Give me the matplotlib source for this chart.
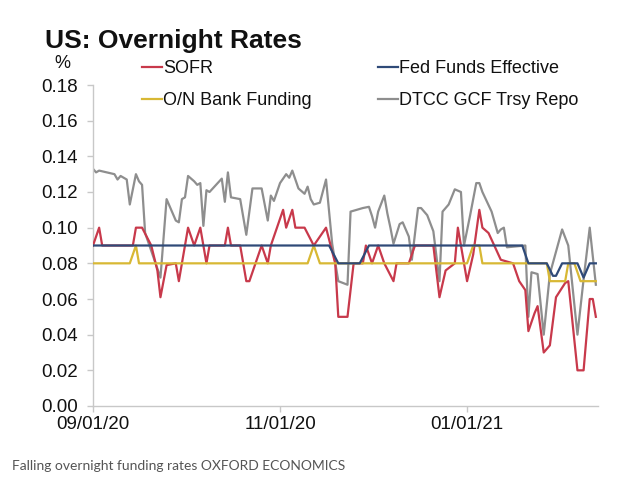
import matplotlib
matplotlib.use("Agg")
import matplotlib.pyplot as plt
import matplotlib.dates as mdates
import pandas as pd
import numpy as np

plt.rcParams['font.family'] = ['Liberation Sans', 'DejaVu Sans']

# values (turning points of each line), % per annum
sofr_dates = ['2020-09-01', '2020-09-03', '2020-09-04', '2020-09-14', '2020-09-15', '2020-09-17',
              '2020-09-20', '2020-09-22', '2020-09-23', '2020-09-25', '2020-09-28', '2020-09-29',
              '2020-09-30', '2020-10-02', '2020-10-04', '2020-10-06', '2020-10-08', '2020-10-09',
              '2020-10-14', '2020-10-15', '2020-10-16', '2020-10-19', '2020-10-21', '2020-10-22',
              '2020-10-24', '2020-10-26', '2020-10-28', '2020-10-29', '2020-11-02', '2020-11-03',
              '2020-11-05', '2020-11-06', '2020-11-09', '2020-11-12', '2020-11-16', '2020-11-19',
              '2020-11-20', '2020-11-23', '2020-11-25', '2020-11-28', '2020-11-29', '2020-12-01',
              '2020-12-03', '2020-12-05', '2020-12-08', '2020-12-09', '2020-12-13', '2020-12-15',
              '2020-12-21', '2020-12-23', '2020-12-25', '2020-12-28', '2020-12-29', '2021-01-01',
              '2021-01-03', '2021-01-05', '2021-01-06', '2021-01-08', '2021-01-12', '2021-01-16',
              '2021-01-18', '2021-01-20', '2021-01-21', '2021-01-23', '2021-01-24', '2021-01-26',
              '2021-01-28', '2021-01-30', '2021-02-02', '2021-02-03', '2021-02-06', '2021-02-08',
              '2021-02-10', '2021-02-11', '2021-02-12']
sofr = [0.09, 0.10, 0.09, 0.09, 0.10, 0.10,
        0.09, 0.076, 0.061, 0.079, 0.08, 0.07,
        0.08, 0.10, 0.09, 0.10, 0.08, 0.09,
        0.09, 0.10, 0.09, 0.09, 0.07, 0.07,
        0.08, 0.09, 0.08, 0.09, 0.11, 0.10,
        0.11, 0.10, 0.10, 0.09, 0.10, 0.08,
        0.05, 0.05, 0.08, 0.08, 0.09, 0.08,
        0.09, 0.08, 0.07, 0.08, 0.08, 0.09,
        0.09, 0.061, 0.076, 0.08, 0.10, 0.07,
        0.085, 0.11, 0.10, 0.097, 0.082, 0.08,
        0.07, 0.065, 0.042, 0.052, 0.056, 0.03,
        0.034, 0.061, 0.069, 0.07, 0.02, 0.02,
        0.06, 0.06, 0.05]

fed_dates = ['2020-09-01', '2020-11-17', '2020-11-20', '2020-11-27', '2020-11-30', '2021-01-19',
             '2021-01-21', '2021-01-27', '2021-01-29', '2021-01-30', '2021-02-01', '2021-02-06',
             '2021-02-08', '2021-02-10', '2021-02-12']
fed = [0.09, 0.09, 0.08, 0.08, 0.09, 0.09,
       0.08, 0.08, 0.073, 0.073, 0.08, 0.08,
       0.072, 0.08, 0.08]

bank_dates = ['2020-09-01', '2020-09-13', '2020-09-15', '2020-09-16', '2020-11-10', '2020-11-12',
              '2020-11-14', '2021-01-01', '2021-01-03', '2021-01-05', '2021-01-06', '2021-01-27',
              '2021-01-28', '2021-02-02', '2021-02-03', '2021-02-05', '2021-02-07', '2021-02-12']
bank = [0.08, 0.08, 0.09, 0.08, 0.08, 0.09,
        0.08, 0.08, 0.09, 0.09, 0.08, 0.08,
        0.07, 0.07, 0.08, 0.08, 0.07, 0.07]

repo_dates = ['2020-09-01', '2020-09-02', '2020-09-03', '2020-09-08', '2020-09-09', '2020-09-10',
              '2020-09-12', '2020-09-13', '2020-09-15', '2020-09-16', '2020-09-17', '2020-09-18',
              '2020-09-23', '2020-09-25', '2020-09-28', '2020-09-29', '2020-09-30', '2020-10-01',
              '2020-10-02', '2020-10-04', '2020-10-05', '2020-10-06', '2020-10-07', '2020-10-08',
              '2020-10-09', '2020-10-13', '2020-10-14', '2020-10-15', '2020-10-16', '2020-10-19',
              '2020-10-21', '2020-10-23', '2020-10-26', '2020-10-28', '2020-10-29', '2020-10-30',
              '2020-11-01', '2020-11-03', '2020-11-04', '2020-11-05', '2020-11-06', '2020-11-07',
              '2020-11-09', '2020-11-10', '2020-11-11', '2020-11-12', '2020-11-14', '2020-11-16',
              '2020-11-18', '2020-11-20', '2020-11-23', '2020-11-24', '2020-11-26', '2020-11-28',
              '2020-11-30', '2020-12-01', '2020-12-02', '2020-12-03', '2020-12-05', '2020-12-06',
              '2020-12-07', '2020-12-08', '2020-12-10', '2020-12-11', '2020-12-13', '2020-12-14',
              '2020-12-16', '2020-12-17', '2020-12-19', '2020-12-21', '2020-12-23', '2020-12-24',
              '2020-12-26', '2020-12-28', '2020-12-30', '2020-12-31', '2021-01-02', '2021-01-04',
              '2021-01-05', '2021-01-06', '2021-01-09', '2021-01-11', '2021-01-12', '2021-01-13',
              '2021-01-14', '2021-01-20', '2021-01-21', '2021-01-22', '2021-01-24', '2021-01-26',
              '2021-01-28', '2021-02-01', '2021-02-03', '2021-02-06', '2021-02-08', '2021-02-10',
              '2021-02-12']
repo = [0.133, 0.131, 0.132, 0.130, 0.127, 0.129,
        0.127, 0.113, 0.130, 0.126, 0.124, 0.097,
        0.072, 0.116, 0.104, 0.103, 0.116, 0.117,
        0.129, 0.126, 0.124, 0.125, 0.101, 0.121,
        0.120, 0.1275, 0.1145, 0.131, 0.117, 0.116,
        0.096, 0.122, 0.122, 0.104, 0.118, 0.115,
        0.125, 0.130, 0.128, 0.132, 0.127, 0.122,
        0.119, 0.123, 0.116, 0.113, 0.114, 0.127,
        0.091, 0.070, 0.068, 0.109, 0.110, 0.111,
        0.1117, 0.1065, 0.100, 0.109, 0.118, 0.108,
        0.100, 0.091, 0.102, 0.103, 0.095, 0.082,
        0.111, 0.111, 0.107, 0.098, 0.070, 0.109,
        0.113, 0.1215, 0.120, 0.090, 0.107, 0.125,
        0.125, 0.120, 0.109, 0.097, 0.099, 0.100,
        0.089, 0.090, 0.050, 0.075, 0.074, 0.040,
        0.074, 0.099, 0.090, 0.040, 0.071, 0.100,
        0.068]

yticks = [0.00, 0.02, 0.04, 0.06, 0.08, 0.10, 0.12, 0.14, 0.16, 0.18]
xticks = ['2020-09-01', '2020-11-01', '2021-01-01']

c_sofr = '#c8394b'
c_fed = '#2f4a78'
c_bank = '#d8b834'
c_repo = '#8e8e8e'

fig = plt.figure(figsize=(6.3, 4.92), dpi=100)
ax = fig.add_axes([93/630, 1-406/492, (598-93)/630, (406-85)/492])

lw = 1.6
ax.plot(pd.to_datetime(repo_dates), repo, color=c_repo, lw=lw, label='DTCC GCF Trsy Repo', zorder=2)
ax.plot(pd.to_datetime(sofr_dates), sofr, color=c_sofr, lw=lw, label='SOFR', zorder=3)
ax.plot(pd.to_datetime(bank_dates), bank, color=c_bank, lw=lw, label='O/N Bank Funding', zorder=4)
ax.plot(pd.to_datetime(fed_dates), fed, color=c_fed, lw=lw, label='Fed Funds Effective', zorder=5)

start = pd.Timestamp('2020-09-01')
ax.set_xlim(start, start + pd.Timedelta(days=164.7))
ax.set_ylim(0, 0.18)
ax.set_yticks(yticks)
ax.set_yticklabels(['%.2f' % v for v in yticks])
ax.set_xticks(pd.to_datetime(xticks))
ax.xaxis.set_major_formatter(mdates.DateFormatter('%m/%d/%y'))

for s in ['top', 'right']:
    ax.spines[s].set_visible(False)
for s in ['left', 'bottom']:
    ax.spines[s].set_color('#c8c8c8')
    ax.spines[s].set_linewidth(1)
ax.tick_params(axis='both', colors='#c8c8c8', labelcolor='#111111', labelsize=13.5,
               length=4, width=1, direction='out')
ax.tick_params(axis='y', pad=7)
ax.tick_params(axis='x', pad=3)

fig.text(45/630, 1-41/492, 'US: Overnight Rates', fontsize=19, fontweight='bold',
         ha='left', va='center', color='#111111')
fig.text(62/630, 1-64/492, '%', fontsize=13, ha='center', va='center', color='#111111')

h, l = ax.get_legend_handles_labels()
order = [1, 2, 3, 0]
leg = fig.legend([h[i] for i in order], [l[i] for i in order], ncol=2,
                 loc='upper left', bbox_to_anchor=(142/630, 1-60/492),
                 frameon=False, fontsize=13, handlelength=1.1, handletextpad=0.05,
                 columnspacing=3.7, labelspacing=0.85, borderpad=0, borderaxespad=0)
for t in leg.get_texts():
    t.set_color('#111111')

fig.text(12/630, 1-466/492, 'Falling overnight funding rates OXFORD ECONOMICS',
         fontsize=10, family=['Lato', 'DejaVu Sans'], color='#555555', ha='left', va='center')

fig.savefig('out.png', dpi=100)
